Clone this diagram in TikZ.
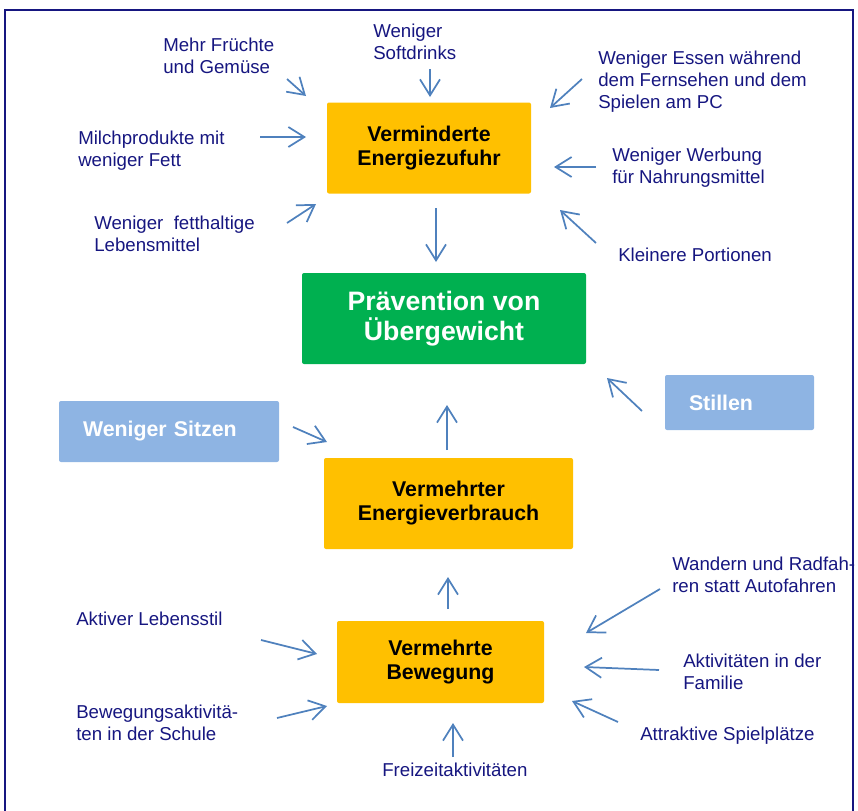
\documentclass[tikz,border=0pt]{standalone}
\usepackage{fontspec}
\setmainfont{Liberation Sans}
\usetikzlibrary{arrows.meta}

\definecolor{navytext}{RGB}{22,22,128}
\definecolor{arrowblue}{RGB}{79,129,189}
\definecolor{boxorange}{RGB}{255,192,0}
\definecolor{boxgreen}{RGB}{0,176,80}
\definecolor{boxlight}{RGB}{142,180,227}

\tikzset{
  cause/.style={text=navytext, font=\fontsize{14}{16.5}\selectfont,
    align=left, anchor=north west, inner sep=0pt},
  mainbox/.style={fill=boxorange, rounded corners=1.5pt, align=center,
    font=\fontsize{16}{18}\selectfont\bfseries, inner sep=0pt},
  goalbox/.style={fill=boxgreen, rounded corners=1.5pt, align=center, text=white,
    font=\fontsize{20}{22}\selectfont\bfseries, inner sep=0pt,
    minimum width=213pt, minimum height=68.25pt},
  sidebox/.style={fill=boxlight, rounded corners=1.5pt, align=left, text=white,
    font=\fontsize{16}{18}\selectfont\bfseries, inner xsep=18pt, inner ysep=0pt},
  arr/.style={draw=arrowblue, line width=1.3pt,
    -{Straight Barb[length=12pt,width=15pt,line width=1.3pt]}},
  frame/.style={draw=navytext, line width=2pt}
}

\begin{document}
\begin{tikzpicture}[x=0.75pt,y=-0.75pt]
\useasboundingbox (0,0) rectangle (858,811);
\draw[frame] (5,830) -- (5,10) -- (853,10) -- (853,830);

% Boxes
\node[mainbox, minimum width=153pt, minimum height=68.25pt] (zufuhr) at (429,148)
  {Verminderte\\Energiezufuhr};
\node[goalbox] (praevention) at (444,318.5) {Prävention von\\Übergewicht};
\node[sidebox, text width=129pt, minimum height=45.75pt] (sitzen) at (169,431.5)
  {Weniger Sitzen};
\node[sidebox, text width=75.75pt, minimum height=41.25pt] (stillen) at (739.5,402.5)
  {Stillen};
\node[mainbox, minimum width=186.75pt, minimum height=68.25pt] (verbrauch) at (448.5,503.5)
  {Vermehrter\\Energieverbrauch};
\node[mainbox, minimum width=155.25pt, minimum height=61.5pt] (bewegung) at (440.5,662)
  {Vermehrte\\Bewegung};

% Factors on the intake side
\node[cause] (fruechte) at (163,38) {Mehr Früchte\\und Gemüse};
\node[cause] (softdrinks) at (373,24) {Weniger\\Softdrinks};
\node[cause] (milch) at (78,131) {Milchprodukte mit\\weniger Fett};
\node[cause] (fett) at (94,216) {Weniger\ \ fetthaltige\\Lebensmittel};
\node[cause] (fernsehen) at (598,51) {Weniger Essen während\\dem Fernsehen und dem\\Spielen am PC};
\node[cause] (werbung) at (612,148) {Weniger Werbung\\für Nahrungsmittel};
\node[cause] (portionen) at (618,248) {Kleinere Portionen};

% Factors on the activity side
\node[cause] (lebensstil) at (76,612) {Aktiver Lebensstil};
\node[cause] (schule) at (76,705) {Bewegungsaktivitä-\\ten in der Schule};
\node[cause] (freizeit) at (382,763) {Freizeitaktivitäten};
\node[cause] (wandern) at (672,557) {Wandern und Radfah-\\ren statt Autofahren};
\node[cause] (familie) at (683,654) {Aktivitäten in der\\Familie};
\node[cause] (spielplatz) at (640,727) {Attraktive Spielplätze};

% Arrow ends
\coordinate (fruechte-a) at (287,79);   \coordinate (fruechte-b) at (306,96);
\coordinate (softdrinks-a) at (430,69); \coordinate (softdrinks-b) at (430,97);
\coordinate (milch-a) at (260,137);     \coordinate (milch-b) at (306,137);
\coordinate (fett-a) at (287,223);      \coordinate (fett-b) at (316,204);
\coordinate (fernsehen-a) at (582,79);  \coordinate (fernsehen-b) at (550,108);
\coordinate (werbung-a) at (596,167);   \coordinate (werbung-b) at (554,167);
\coordinate (portionen-a) at (596,243); \coordinate (portionen-b) at (560,210);
\coordinate (zufuhr-a) at (436,208);    \coordinate (zufuhr-b) at (436,262);
\coordinate (sitzen-a) at (293,427);    \coordinate (sitzen-b) at (327,442);
\coordinate (stillen-a) at (642,411);   \coordinate (stillen-b) at (607,378);
\coordinate (verbrauch-a) at (447,450); \coordinate (verbrauch-b) at (447,405);
\coordinate (bewegung-a) at (448,609);  \coordinate (bewegung-b) at (448,577);
\coordinate (lebensstil-a) at (261,640);\coordinate (lebensstil-b) at (317,654);
\coordinate (schule-a) at (277,718);    \coordinate (schule-b) at (327,706);
\coordinate (freizeit-a) at (453,757);  \coordinate (freizeit-b) at (453,723);
\coordinate (wandern-a) at (660,589);   \coordinate (wandern-b) at (586,633);
\coordinate (familie-a) at (659,670);   \coordinate (familie-b) at (584,667);
\coordinate (spielplatz-a) at (618,722);\coordinate (spielplatz-b) at (572,701);

% Arrows
\draw[arr] (fruechte-a) -- (fruechte-b);
\draw[arr] (softdrinks-a) -- (softdrinks-b);
\draw[arr] (milch-a) -- (milch-b);
\draw[arr] (fett-a) -- (fett-b);
\draw[arr] (fernsehen-a) -- (fernsehen-b);
\draw[arr] (werbung-a) -- (werbung-b);
\draw[arr] (portionen-a) -- (portionen-b);
\draw[arr] (zufuhr-a) -- (zufuhr-b);
\draw[arr] (sitzen-a) -- (sitzen-b);
\draw[arr] (stillen-a) -- (stillen-b);
\draw[arr] (verbrauch-a) -- (verbrauch-b);
\draw[arr] (bewegung-a) -- (bewegung-b);
\draw[arr] (lebensstil-a) -- (lebensstil-b);
\draw[arr] (schule-a) -- (schule-b);
\draw[arr] (freizeit-a) -- (freizeit-b);
\draw[arr] (wandern-a) -- (wandern-b);
\draw[arr] (familie-a) -- (familie-b);
\draw[arr] (spielplatz-a) -- (spielplatz-b);
\end{tikzpicture}
\end{document}
